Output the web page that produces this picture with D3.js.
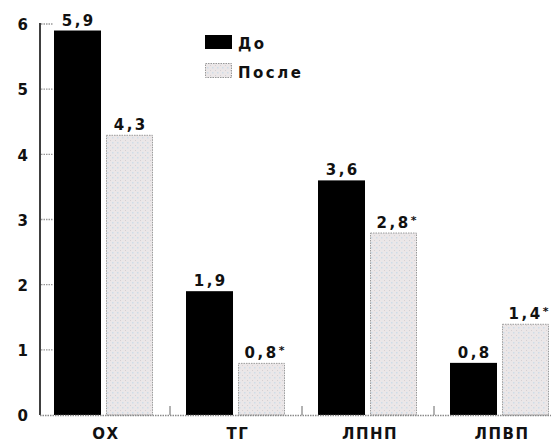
<!DOCTYPE html>
<html><head><meta charset="utf-8">
<script src="https://cdn.jsdelivr.net/npm/d3@7"></script>
<style>body{margin:0;background:#fff}svg{display:block}text{font-family:"DejaVu Sans",Arial,sans-serif;font-weight:bold}</style>
</head><body>
<svg id="c" width="551" height="442"></svg>
<script>
const categories = ["ОХ", "ТГ", "ЛПНП", "ЛПВП"];
const before = [5.9, 1.9, 3.6, 0.8];
const after = [4.3, 0.8, 2.8, 1.4];
const beforeLabels = ["5,9", "1,9", "3,6", "0,8"];
const afterLabels = ["4,3", "0,8*", "2,8*", "1,4*"];
const seriesNames = ["До", "После"];
const yTicks = [0, 1, 2, 3, 4, 5, 6];

const svg = d3.select("#c");
const defs = svg.append("defs");
const pat = defs.append("pattern").attr("id","dots").attr("patternUnits","userSpaceOnUse").attr("width",5).attr("height",5);
pat.append("rect").attr("width",5).attr("height",5).attr("fill","#ebe7e8");
pat.append("rect").attr("x",2).attr("y",2).attr("width",1.5).attr("height",1.5).attr("fill","#cfdde8");
pat.append("rect").attr("x",0).attr("y",0).attr("width",1).attr("height",1).attr("fill","#d6d0d2");

const x0 = 40, yBase = 415, yTop = 24;
const y = d3.scaleLinear().domain([0, 6]).range([yBase, yTop]);
const x = d3.scaleBand().domain(categories).range([x0, x0 + 4 * 132]);
const xs = d3.scaleBand().domain(seriesNames).range([14, 113]).paddingInner(0.096).paddingOuter(0);
const ls = 2.5;

function valueText(sel, getLabel) {
  sel.each(function(d, i) {
    const t = d3.select(this);
    const s = getLabel(i);
    const star = s.endsWith("*");
    t.append("tspan").text(star ? s.slice(0, -1) : s);
    if (star) t.append("tspan").attr("font-size", 11).attr("dy", -4).text("*");
  });
}

// y axis
const yAxis = d3.axisLeft(y).tickValues(yTicks).tickFormat(d3.format("d")).tickSize(0).tickPadding(12);
const gy = svg.append("g").attr("transform",`translate(${x0},0)`).call(yAxis);
gy.select(".domain").remove();
gy.selectAll("text").attr("font-size",15).attr("fill","#111").attr("dy","0.38em").style("font-family","DejaVu Sans");
svg.append("line").attr("x1",x0).attr("x2",x0).attr("y1",yTop-1).attr("y2",yBase).attr("stroke","#000").attr("stroke-width",1.5);
svg.selectAll(".ytk").data(yTicks.slice(1)).enter().append("line")
  .attr("x1",x0+1).attr("x2",x0+13).attr("y1",d=>y(d)).attr("y2",d=>y(d))
  .attr("stroke","#999").attr("stroke-width",1.3).attr("stroke-dasharray","1.5,1");

// bars
const groups = svg.selectAll(".grp").data(categories).enter().append("g")
  .attr("transform",d=>`translate(${x(d)},0)`);
groups.append("rect").attr("x",xs("До")).attr("width",xs.bandwidth())
  .attr("y",(d,i)=>y(before[i])).attr("height",(d,i)=>yBase-y(before[i]))
  .attr("fill","#000");
groups.append("rect").attr("x",xs("После")+0.5).attr("width",xs.bandwidth()-1)
  .attr("y",(d,i)=>y(after[i])+0.5).attr("height",(d,i)=>yBase-y(after[i])-0.5)
  .attr("fill","url(#dots)").attr("stroke","#9a9a9a").attr("stroke-width",1).attr("stroke-dasharray","1.5,1");
groups.append("text").attr("x",xs("До")+xs.bandwidth()/2+ls/2).attr("y",(d,i)=>y(before[i])-5)
  .attr("text-anchor","middle").attr("font-size",15).attr("letter-spacing",ls).attr("fill","#111")
  .call(valueText, i=>beforeLabels[i]);
groups.append("text").attr("x",(d,i)=>xs("После")+xs.bandwidth()/2+ls/2+(afterLabels[i].endsWith("*")?3:0)).attr("y",(d,i)=>y(after[i])-5)
  .attr("text-anchor","middle").attr("font-size",15).attr("letter-spacing",ls).attr("fill","#111")
  .call(valueText, i=>afterLabels[i]);

// x axis
svg.append("line").attr("x1",x0).attr("x2",551).attr("y1",yBase+0.5).attr("y2",yBase+0.5)
  .attr("stroke","#8a8a8a").attr("stroke-width",1.5).attr("stroke-dasharray","1.5,1");
const xAxis = d3.axisBottom(x).tickSize(0).tickPadding(0);
const gx = svg.append("g").attr("transform",`translate(0,${yBase})`).call(xAxis);
gx.select(".domain").remove();
gx.selectAll("text").attr("font-size",15).attr("fill","#111").attr("y",24).attr("dy",0).attr("letter-spacing",1.5)
  .style("font-family","DejaVu Sans");
svg.selectAll(".xsep").data(categories.slice(1)).enter().append("line")
  .attr("x1",d=>x(d)-2).attr("x2",d=>x(d)-2).attr("y1",yBase-9).attr("y2",yBase)
  .attr("stroke","#666").attr("stroke-width",1);

// legend
const leg = svg.append("g").attr("transform","translate(205,35)");
leg.append("rect").attr("x",0).attr("y",0).attr("width",27).attr("height",14).attr("fill","#000");
leg.append("rect").attr("x",0.5).attr("y",28.5).attr("width",26).attr("height",14).attr("fill","url(#dots)")
  .attr("stroke","#999").attr("stroke-dasharray","1.5,1");
leg.append("text").attr("x",33).attr("y",14).attr("font-size",15).attr("letter-spacing",2.5).attr("fill","#111").text(seriesNames[0]);
leg.append("text").attr("x",33).attr("y",43).attr("font-size",15).attr("letter-spacing",2.5).attr("fill","#111").text(seriesNames[1]);
</script>
</body></html>
